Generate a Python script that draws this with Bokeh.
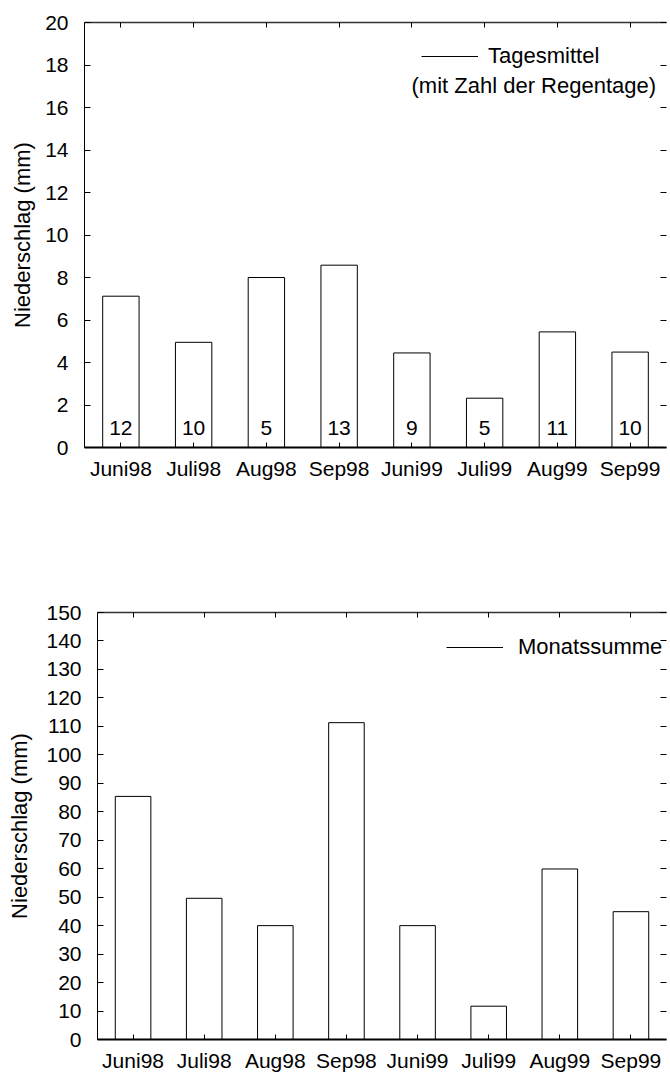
from bokeh.plotting import figure
from bokeh.layouts import column
from bokeh.core.properties import value
from bokeh.models import (Range1d, FactorRange, CategoricalAxis, LinearAxis,
                          SingleIntervalTicker, Legend, LegendItem, Label, LabelSet,
                          ColumnDataSource, CustomJSTickFormatter)
from bokeh.embed import file_html
from bokeh.resources import INLINE

# Niederschlag Sommer 1998/1999
months = ["Juni98", "Juli98", "Aug98", "Sep98", "Juni99", "Juli99", "Aug99", "Sep99"]
daily_mean = [7.12, 4.95, 8.00, 8.58, 4.45, 2.32, 5.44, 4.49]   # mm pro Regentag
rain_days = [12, 10, 5, 13, 9, 5, 11, 10]                        # Zahl der Regentage
monthly_sum = [85.4, 49.6, 40.0, 111.3, 40.0, 11.7, 59.9, 44.9]  # mm pro Monat

FONT = "Liberation Sans"
TICK_SIZE = "21px"
LABEL_SIZE = "22px"


def blank_formatter():
    return CustomJSTickFormatter(code="return ''")


def make_panel(values, y_max, step, height, border_top, border_bottom, border_left,
               label_standoff):
    p = figure(x_range=FactorRange(factors=months, range_padding=0),
               y_range=Range1d(0, y_max),
               width=670, height=height,
               min_border_top=border_top, min_border_bottom=border_bottom,
               min_border_left=border_left, min_border_right=0,
               output_backend="svg", toolbar_location=None)
    p.frame_align = False
    p.xgrid.grid_line_color = None
    p.ygrid.grid_line_color = None
    p.outline_line_color = None
    p.background_fill_color = "white"
    p.border_fill_color = "white"

    src = ColumnDataSource(dict(month=months, value=values))
    p.vbar(x="month", top="value", width=0.5, source=src,
           fill_color="white", line_color="black", line_width=1)

    xa = p.xaxis[0]
    xa.major_tick_in = 5
    xa.major_tick_out = 0
    xa.axis_line_width = 2
    xa.axis_line_color = "black"
    xa.major_label_standoff = 9
    xa.major_label_text_font = FONT
    xa.major_label_text_font_size = TICK_SIZE
    xa.major_label_text_color = "black"

    ya = p.yaxis[0]
    ya.ticker = SingleIntervalTicker(interval=step)
    ya.minor_tick_line_color = None
    ya.major_tick_in = 6
    ya.major_tick_out = 0
    ya.axis_line_color = "black"
    ya.major_label_standoff = 12
    ya.major_label_text_font = FONT
    ya.major_label_text_font_size = TICK_SIZE
    ya.major_label_text_color = "black"
    ya.axis_label = "Niederschlag (mm)"
    ya.axis_label_text_font = FONT
    ya.axis_label_text_font_size = LABEL_SIZE
    ya.axis_label_text_font_style = "normal"
    ya.axis_label_text_color = "black"
    ya.axis_label_standoff = label_standoff

    top = CategoricalAxis(major_tick_in=5, major_tick_out=0, major_label_standoff=0,
                          axis_line_color="#333333", axis_line_width=1.5,
                          formatter=blank_formatter(),
                          major_label_text_font_size="0px")
    p.add_layout(top, "above")
    # right edge of the frame runs off the page: only the inward ticks show
    right = LinearAxis(ticker=SingleIntervalTicker(interval=step),
                       major_tick_in=6, major_tick_out=0, major_label_standoff=0,
                       axis_line_color=None,
                       minor_tick_line_color=None, formatter=blank_formatter(),
                       major_label_text_font_size="0px")
    p.add_layout(right, "right")
    return p, src


def add_legend(p, src, text, x, y, standoff):
    # hidden series line that provides the legend's line symbol
    r = p.line(x="month", y="value", source=src, line_color="black",
               line_width=1, visible=False)
    legend = Legend(items=[LegendItem(label=text, renderers=[r])],
                    location=(x, y), glyph_width=57, glyph_height=20,
                    label_standoff=standoff, padding=0, margin=0,
                    click_policy="none",
                    border_line_color=None, background_fill_alpha=0,
                    label_text_font=FONT, label_text_font_size=LABEL_SIZE,
                    label_text_color="black")
    p.add_layout(legend)


# oben: Tagesmittel mit Zahl der Regentage
p1, src1 = make_panel(daily_mean, 20, 2, 482, 22, 32, 84, 7)
src1.data["days"] = [str(d) for d in rain_days]
p1.add_layout(LabelSet(x="month", y=0, text="days", source=src1,
                       y_offset=13, text_align="center", text_baseline="alphabetic",
                       text_font=value(FONT), text_font_size=value(TICK_SIZE),
                       text_color="black"))
add_legend(p1, src1, "Tagesmittel", 337, 378, 10)
p1.add_layout(Label(x=327, y=362, x_units="screen", y_units="screen",
                    text="(mit Zahl der Regentage)", text_baseline="middle",
                    text_font=FONT, text_font_size=LABEL_SIZE, text_color="black"))

# unten: Monatssumme
p2, src2 = make_panel(monthly_sum, 150, 10, 592, 130, 33, 97, 11)
add_legend(p2, src2, "Monatssumme", 349, 379, 15)

layout = column(p1, p2, spacing=0)
open("out.html", "w").write(file_html(layout, INLINE))
